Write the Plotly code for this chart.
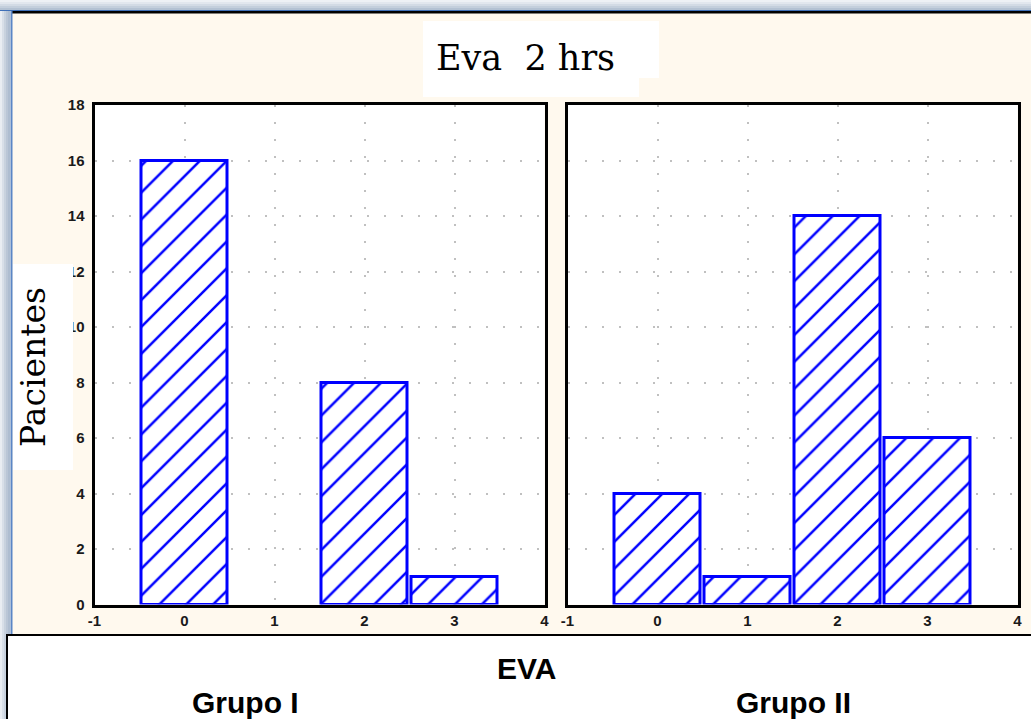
import plotly.graph_objects as go

# ---------------- data ----------------
categories = [0, 1, 2, 3]
grupo_i = [16, 0, 8, 1]
grupo_ii = [4, 1, 14, 6]
x_ticks = [-1, 0, 1, 2, 3, 4]
y_ticks = [0, 2, 4, 6, 8, 10, 12, 14, 16, 18]
title_text = "Eva\u00a0\u00a02 hrs"
y_label = "Pacientes"
x_label = "EVA"
group_labels = ["Grupo I", "Grupo II"]

W, H = 1031, 719


def px(x):
    return x / W


def py(y):
    return 1 - y / H


BLUE = "#0000FF"
CREAM = "#FFF9EE"


def make_bar(xs, ys, xa, ya):
    xs2 = [c for c, v in zip(xs, ys) if v > 0]
    ys2 = [v for v in ys if v > 0]
    return go.Bar(
        x=xs2, y=ys2, width=0.96, xaxis=xa, yaxis=ya, showlegend=False,
        marker=dict(
            color="white",
            line=dict(color=BLUE, width=3),
            pattern=dict(shape="/", fgcolor=BLUE, bgcolor="white", size=19, solidity=0.13),
        ),
        hoverinfo="skip",
    )


fig = go.Figure()
fig.add_trace(make_bar(categories, grupo_i, "x", "y"))
fig.add_trace(make_bar(categories, grupo_ii, "x2", "y2"))

tickfont = dict(family="Liberation Sans, Arial", size=15, color="#1a1a1a", weight="bold")
common_x = dict(
    range=[-1, 4], tickmode="array", tickvals=x_ticks, ticktext=[str(t) for t in x_ticks],
    showgrid=True, gridcolor="#C0C0C0", griddash="2px,15px", gridwidth=2,
    showline=True, linewidth=3, linecolor="black", mirror=True, automargin=False,
    ticks="", zeroline=False, tickfont=tickfont, ticklabelstandoff=0,
)
common_y = dict(
    range=[0, 18], tickmode="array", tickvals=y_ticks, ticktext=[str(t) for t in y_ticks],
    showgrid=True, gridcolor="#C0C0C0", griddash="2px,15px", gridwidth=2,
    showline=True, linewidth=3, linecolor="black", mirror=True, automargin=False,
    ticks="", zeroline=False, tickfont=tickfont,
)

ydom = [py(604.5), py(105)]
fig.update_layout(
    template="none",
    width=W, height=H,
    margin=dict(l=0, r=0, t=0, b=0, pad=0),
    paper_bgcolor=CREAM, plot_bgcolor="white",
    bargap=0,
    xaxis=dict(domain=[px(94.5), px(544.5)], anchor="y", **common_x),
    yaxis=dict(domain=ydom, anchor="x", ticklabelstandoff=4, **common_y),
    xaxis2=dict(domain=[px(567.5), px(1017.5)], anchor="y2", **common_x),
    yaxis2=dict(domain=ydom, anchor="x2", showticklabels=False, **common_y),
)

shapes = []
# window frame gradient (top and left)
top_cols = ["#EEF1F5", "#E2E7EE", "#D3DBE5", "#C4CFDC", "#B4C2D3"]
for i, c in enumerate(top_cols):
    shapes.append(dict(type="rect", xref="paper", yref="paper", x0=0, x1=1,
                       y0=py(2 * i + 2), y1=py(2 * i), fillcolor=c, line_width=0, layer="above"))
left_cols = ["#E9EDF2", "#D8DFE8", "#C8D2DE", "#BAC6D6", "#AEBDD0"]
for i, c in enumerate(left_cols):
    shapes.append(dict(type="rect", xref="paper", yref="paper", x0=px(2 * i), x1=px(2 * i + 2),
                       y0=0, y1=py(10), fillcolor=c, line_width=0, layer="above"))
shapes.append(dict(type="rect", xref="paper", yref="paper", x0=0, x1=1, y0=py(11), y1=py(10),
                   fillcolor="#3F70B8", line_width=0, layer="above"))
shapes.append(dict(type="rect", xref="paper", yref="paper", x0=px(11), x1=1, y0=py(13.5), y1=py(11),
                   fillcolor="black", line_width=0, layer="above"))
shapes.append(dict(type="rect", xref="paper", yref="paper", x0=px(10.5), x1=px(12.5), y0=py(634), y1=py(11),
                   fillcolor="#5A86C6", line_width=0, layer="above"))
# white box behind the title
shapes.append(dict(type="rect", xref="paper", yref="paper", x0=px(423), x1=px(659), y0=py(78), y1=py(21),
                   fillcolor="white", line_width=0, layer="above"))
shapes.append(dict(type="rect", xref="paper", yref="paper", x0=px(423), x1=px(639), y0=py(97), y1=py(78),
                   fillcolor="white", line_width=0, layer="above"))
# white box behind y label (covers part of tick labels as in the reference)
shapes.append(dict(type="rect", xref="paper", yref="paper", x0=px(13), x1=px(73), y0=py(470), y1=py(264),
                   fillcolor="white", line_width=0, layer="above"))
# bottom white caption box
shapes.append(dict(type="rect", xref="paper", yref="paper", x0=px(7), x1=px(1040), y0=py(730), y1=py(635),
                   fillcolor="white", line=dict(color="black", width=2), layer="above"))
fig.update_layout(shapes=shapes)

serif = "DejaVu Serif, Liberation Serif, serif"
sans = "Liberation Sans, Arial, sans-serif"
annotations = [
    dict(text=title_text, x=px(525), y=py(58), xref="paper", yref="paper", showarrow=False,
         xanchor="center", yanchor="middle", font=dict(family=serif, size=35, color="black")),
    dict(text=y_label, x=px(33), y=py(367), xref="paper", yref="paper", showarrow=False, textangle=-90,
         xanchor="center", yanchor="middle", font=dict(family=serif, size=33, color="black")),
    dict(text="<b>" + x_label + "</b>", x=px(526), y=py(668), xref="paper", yref="paper", showarrow=False,
         xanchor="center", yanchor="middle", font=dict(family=sans, size=30, color="black")),
    dict(text="<b>" + group_labels[0] + "</b>", x=px(245), y=py(702), xref="paper", yref="paper",
         showarrow=False, xanchor="center", yanchor="middle", font=dict(family=sans, size=30, color="black")),
    dict(text="<b>" + group_labels[1] + "</b>", x=px(793), y=py(702), xref="paper", yref="paper",
         showarrow=False, xanchor="center", yanchor="middle", font=dict(family=sans, size=30, color="black")),
]
fig.update_layout(annotations=annotations)

fig.write_html(
    "out.html",
    config={"displayModeBar": False},
    post_script="document.body.style.margin='0';document.body.style.overflow='hidden';",
)
